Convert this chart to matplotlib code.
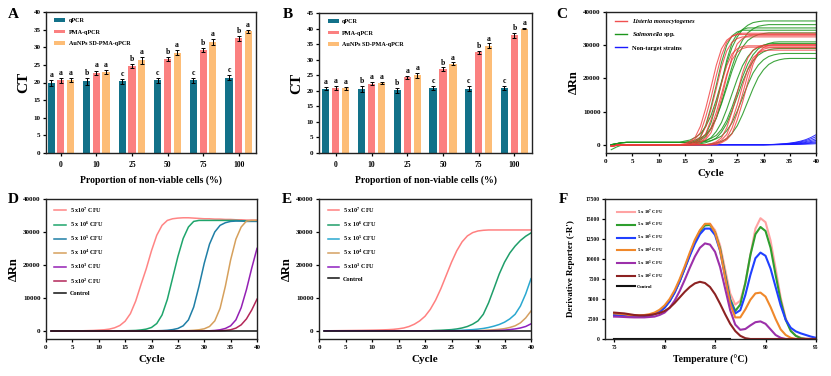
import numpy as np
import matplotlib
matplotlib.use("Agg")
import matplotlib.pyplot as plt

plt.rcParams['font.family'] = ['Liberation Serif', 'DejaVu Serif']
plt.rcParams['font.weight'] = 'bold'
plt.rcParams['mathtext.fontset'] = 'custom'
plt.rcParams['mathtext.rm'] = 'Liberation Serif:bold'
plt.rcParams['mathtext.bf'] = 'Liberation Serif:bold'
plt.rcParams['mathtext.it'] = 'Liberation Serif:italic:bold'

# ---------------- data: panels A & B ----------------
proportions = ['0', '10', '25', '50', '75', '100']
bar_series = ['qPCR', 'PMA-qPCR', 'AuNPs SD-PMA-qPCR']

a_qpcr = [19.9, 20.4, 20.3, 20.7, 20.6, 21.3]
a_pma = [20.6, 22.8, 24.7, 26.6, 29.3, 32.5]
a_aunps = [20.8, 23.0, 26.3, 28.5, 31.4, 34.5]
a_qpcr_err = [0.9, 1.0, 0.7, 0.7, 0.8, 0.7]
a_pma_err = [0.7, 0.6, 0.6, 0.6, 0.6, 0.6]
a_aunps_err = [0.6, 0.6, 1.0, 0.8, 0.8, 0.4]
a_qpcr_sig = ['a', 'b', 'c', 'c', 'c', 'c']
a_pma_sig = ['a', 'a', 'b', 'b', 'b', 'b']
a_aunps_sig = ['a', 'a', 'a', 'a', 'a', 'a']

b_qpcr = [20.7, 20.5, 20.1, 20.9, 20.6, 20.8]
b_pma = [20.8, 22.3, 24.3, 27.0, 32.4, 37.8]
b_aunps = [20.8, 22.5, 25.0, 28.7, 34.5, 40.0]
b_qpcr_err = [0.6, 0.9, 0.9, 0.5, 0.8, 0.6]
b_pma_err = [0.7, 0.4, 0.4, 0.5, 0.5, 0.7]
b_aunps_err = [0.5, 0.2, 0.8, 0.4, 0.7, 0.1]
b_qpcr_sig = ['a', 'b', 'b', 'c', 'c', 'c']
b_pma_sig = ['a', 'a', 'a', 'b', 'b', 'b']
b_aunps_sig = ['a', 'a', 'a', 'a', 'a', 'a']

# ---------------- data: panel C (cycles 1..40) ----------------
cycles = list(range(1, 41))
BL = [-400, -200, -50]
GB = [0, 300, 600]
c_listeria = [
    BL + [0]*11 + [330, 1000, 2300, 5600, 11000, 17300, 23900, 28900, 31500, 32700, 33200] + [33200]*15,
    BL + [0]*12 + [300, 1000, 2300, 5500, 10700, 16900, 23400, 28300, 30900, 32000, 32500] + [32500]*14,
    BL + [0]*12 + [700, 1700, 3700, 8400, 14100, 20800, 26900, 30900, 32600, 33400, 33600] + [33600]*14,
    BL + [0]*13 + [600, 1500, 3300, 7500, 12500, 18500, 23800, 27400, 28900, 29600, 29800] + [29800]*13,
    BL + [0]*13 + [300, 900, 2100, 5000, 9700, 15300, 21200, 25600, 27900, 29000, 29400] + [29400]*13,
    BL + [0]*16 + [300, 900, 2100, 5100, 9900, 15600, 21600, 26100, 28500, 29500, 30000] + [30000]*10,
    BL + [0]*17 + [600, 1400, 3100, 7100, 12000, 17700, 22800, 26200, 27600, 28300, 28500] + [28500]*9,
    BL + [0]*17 + [300, 900, 2000, 5000, 9600, 15200, 21000, 25400, 27700, 28800, 29200] + [29200]*9,
    BL + [0]*14 + [700, 1600, 3600, 8200, 13900, 20500, 26400, 30400, 32000, 32800, 33000] + [33000]*12,
    BL + [0]*18 + [600, 1500, 3300, 7500, 12700, 18700, 24200, 27800, 29300, 30000, 30200] + [30200]*8,
]
c_salmonella = [
    GB + [700]*11 + [1100, 1400, 2200, 3300, 5500, 8800, 13500, 19000, 24500, 29300, 32500, 34700, 36000, 36800, 37100, 37300] + [37300]*10,
    [-300, -150] + [0]*13 + [400, 700, 1400, 2500, 4700, 8000, 12700, 18100, 23500, 28200, 31500, 33700, 34900, 35700, 36000, 36200] + [36200]*9,
    GB + [700]*13 + [1000, 1700, 3100, 6600, 12100, 18600, 25500, 30700, 33500, 34700, 35200] + [35200]*13,
    GB + [700]*12 + [1000, 1400, 2000, 3000, 5000, 8000, 12300, 17200, 22200, 26400, 29400, 31400, 32500, 33200, 33500, 33700] + [33700]*9,
    [-300, -150] + [0]*14 + [300, 600, 1200, 2100, 4000, 6700, 10700, 15300, 19800, 23800, 26500, 28400, 29400, 30000, 30400, 30500] + [30500]*8,
    [-300, -150] + [0]*15 + [300, 600, 1200, 2000, 3800, 6400, 10200, 14500, 18900, 22600, 25200, 27000, 28000, 28600, 28900, 29000] + [29000]*7,
    GB + [700]*15 + [1000, 1200, 1800, 2600, 4200, 6600, 10100, 14100, 18100, 21600, 24000, 25600, 26600, 27100, 27400, 27500] + [27500]*6,
    [-300, -150] + [0]*17 + [300, 500, 1000, 1800, 3400, 5700, 9100, 13000, 16900, 20300, 22600, 24200, 25100, 25600, 25900, 26000] + [26000]*5,
    [-1500, -700, -100] + [0]*12 + [300, 1000, 2400, 5900, 11400, 17900, 24800, 30000, 32800, 34000, 34500] + [34500]*14,
    GB + [700]*14 + [1000, 1300, 1900, 2800, 4600, 7400, 11300, 15900, 20400, 24300, 27100, 28900, 29900, 30500, 30900, 31000] + [31000]*7,
]
c_nontarget = [
    [0]*30 + [50, 100, 180, 300, 480, 720, 1050, 1500, 2150, 3000],
    [0]*30 + [40, 80, 150, 250, 390, 580, 850, 1220, 1730, 2400],
    [0]*30 + [30, 60, 110, 180, 290, 440, 640, 920, 1300, 1800],
    [0]*30 + [20, 40, 80, 130, 210, 320, 470, 670, 950, 1300],
    [0]*30 + [10, 30, 50, 90, 150, 220, 330, 470, 660, 900],
    [0]*30 + [10, 20, 40, 60, 100, 150, 220, 310, 440, 600],
    [0]*30 + [0, 10, 20, 30, 50, 80, 110, 160, 220, 300],
]
c_labels = ['Listeria monocytogenes', r'$\mathit{Salmonella}$ spp.', 'Non-target strains']

# ---------------- data: panel D (cycles 1..40) ----------------
d_labels = [r'5 x10$^{7}$ CFU', r'5 x 10$^{6}$ CFU', r'5 x 10$^{5}$ CFU',
            r'5 x 10$^{4}$ CFU', r'5 x10$^{3}$ CFU', r'5 x10$^{2}$ CFU', 'Control']
d_1e7 = [-100, -100, -80, -60, -50, -30, 0, 50, 100, 200, 300, 500, 900, 1600, 2900, 5200, 9000, 14000, 18800, 24300,
         29000, 32000, 33500, 34000, 34200, 34300, 34300, 34200, 34100, 34000, 34000, 33900, 33900, 33800, 33800, 33700, 33700, 33600, 33600, 33600]
d_1e6 = [-100]*10 + [-80, -60, -40, -20, 0, 50, 100, 250, 500, 1000, 2200, 4800, 9500, 16000, 22500, 28000, 31500, 33200, 33500, 33500,
         33500, 33500, 33500, 33500, 33500, 33500, 33400, 33400, 33400, 33400]
d_1e5 = [-100]*15 + [-80, -60, -40, -20, -10, 0, 50, 150, 350, 700, 1500, 3300, 7200, 13500, 20500, 26300, 30000, 32000, 32800, 33200,
         33300, 33300, 33200, 33200, 33200]
d_1e4 = [-100]*20 + [-80, -60, -40, -20, 0, 20, 50, 150, 300, 600, 1300, 3000, 6800, 13500, 21500, 27800, 31500, 33300, 33500, 33500]
d_1e3 = [-100]*22 + [-80, -60, -40, -20] + [0]*5 + [100, 300, 700, 1500, 3300, 7000, 12500, 19000, 25000]
d_1e2 = [-100]*24 + [-80, -60, -40, -20] + [0]*5 + [100, 300, 800, 1800, 3600, 6300, 9600]
d_control = [0]*40
d_series = [d_1e7, d_1e6, d_1e5, d_1e4, d_1e3, d_1e2, d_control]
d_colors = ['#ff8585', '#1fa56c', '#1f7fa6', '#d6a05c', '#9420b4', '#b32658', '#111111']

# ---------------- data: panel E (cycles 1..40) ----------------
e_labels = [r'5 x10$^{7}$ CFU', r'5 x 10$^{6}$ CFU', r'5 x 10$^{5}$ CFU',
            r'5 x 10$^{4}$ CFU', r'5 x10$^{3}$ CFU', 'Control']
e_1e7 = [0, 0, 20, 40, 60, 80, 100, 120, 150, 180, 220, 270, 330, 420, 600, 850, 1300, 2000, 3000, 4400,
         6500, 9300, 12800, 16800, 20800, 24300, 27000, 28800, 29800, 30300, 30500, 30600, 30600, 30600, 30600, 30600, 30600, 30600, 30600, 30600]
e_1e6 = [0]*20 + [0, 100, 150, 250, 350, 550, 850, 1300, 2000, 3000, 5000, 8500, 12800, 17200, 20800, 23600, 25700, 27400, 28700, 29700]
e_1e5 = [0]*24 + [50, 100, 150, 250, 350, 500, 700, 1000, 1400, 1900, 2600, 3600, 5000, 7500, 11200, 15800]
e_1e4 = [0]*29 + [50, 100, 200, 300, 450, 650, 1000, 1500, 2400, 3900, 6000]
e_1e3 = [0]*32 + [50, 100, 200, 350, 550, 850, 1300, 2100]
e_control = [0]*40
e_series = [e_1e7, e_1e6, e_1e5, e_1e4, e_1e3, e_control]
e_colors = ['#ff8080', '#1f9e6a', '#2aa8d0', '#d4a062', '#8e1fc0', '#111111']

# ---------------- data: panel F (melt curves) ----------------
temps = [75.0 + 0.5 * i for i in range(41)]
f_labels = [r'5 x 10$^{7}$ CFU', r'5 x 10$^{6}$ CFU', r'5 x 10$^{5}$ CFU',
            r'5 x 10$^{4}$ CFU', r'5 x 10$^{3}$ CFU', r'5 x 10$^{2}$ CFU', 'Control']
f_1e7 = [3100, 3050, 3000, 2950, 2900, 2900, 2900, 3000, 3200, 3500, 4000, 4800, 5900, 7300, 8900, 10600, 12200, 13500, 14300, 14400,
         13600, 11700, 8700, 5700, 4300, 4800, 7000, 10500, 13800, 15100, 14600, 12300, 8800, 5200, 2600, 1100, 400, 150, 50, 0, 0]
f_1e6 = [3000, 2950, 2900, 2850, 2850, 2850, 2850, 2950, 3150, 3450, 3950, 4750, 5850, 7250, 8850, 10550, 12150, 13450, 14200, 14250,
         13300, 11300, 8100, 5000, 3500, 4300, 7000, 10500, 13100, 14000, 13500, 11400, 8000, 4800, 2400, 1000, 400, 100, 0, 0, 0]
f_1e5 = [3000, 2950, 2900, 2850, 2850, 2850, 2850, 2950, 3100, 3400, 3900, 4700, 5800, 7200, 8800, 10400, 11900, 13100, 13800, 13800,
         13000, 11000, 7800, 4700, 3200, 3600, 5500, 8000, 10100, 10800, 10400, 8800, 6500, 4200, 2400, 1400, 950, 700, 500, 300, 150]
f_1e4 = [3200, 3150, 3100, 3000, 2950, 2950, 3000, 3100, 3300, 3650, 4200, 5000, 6100, 7500, 9100, 10800, 12400, 13600, 14400, 14400,
         13300, 11100, 7700, 4400, 2700, 2700, 3700, 4900, 5700, 5800, 5300, 4000, 2500, 1200, 500, 150, 0, 0, 0, 0, 0]
f_1e3 = [2800, 2780, 2750, 2720, 2700, 2700, 2700, 2750, 2800, 3000, 3300, 3900, 4800, 6000, 7400, 8900, 10300, 11400, 11950, 11800,
         10900, 9000, 6300, 3600, 1800, 1150, 1250, 1700, 2100, 2200, 1900, 1200, 500, 150, 0, 0, 0, 0, 0, 0, 0]
f_1e2 = [3300, 3250, 3200, 3100, 3000, 2950, 2950, 3000, 3100, 3250, 3500, 3900, 4500, 5200, 5900, 6500, 6950, 7150, 7000, 6500,
         5600, 4400, 3100, 1900, 1000, 400, 100, 0, 0, 0, 0, 0, 0, 0, 0, 0, 0, 0, 0, 0, 0]
f_control_temps = [75.0, 86.5]
f_control = [0, 0]
f_series = [f_1e7, f_1e6, f_1e5, f_1e4, f_1e3, f_1e2]
f_colors = ['#ffa3a3', '#2e9e2e', '#2040ff', '#f0882a', '#9c30aa', '#8c2222', '#111111']

# ---------------- figure ----------------
W, H = 831, 376
fig = plt.figure(figsize=(W / 100, H / 100), dpi=100)


def ax_px(x0, y0, x1, y1):
    return fig.add_axes([x0 / W, 1 - y1 / H, (x1 - x0) / W, (y1 - y0) / H])


def style(ax, fs=5):
    for s in ax.spines.values():
        s.set_linewidth(1.0)
        s.set_color('#222222')
    ax.tick_params(direction='out', length=2.5, width=0.9, labelsize=fs, pad=1.5)
    for lab in ax.get_xticklabels() + ax.get_yticklabels():
        lab.set_fontweight('bold')


def bold_legend(leg):
    for t in leg.get_texts():
        t.set_fontweight('bold')


bar_colors = ['#127189', '#fb8080', '#fdbd77']


def bar_panel(ax, vals, errs, sigs, ylim, yticks, xlim, off):
    x = np.arange(len(proportions))
    for k in range(3):
        ax.bar(x + (k - 1) * off, vals[k], width=0.2, color=bar_colors[k], label=bar_series[k], zorder=2)
        ax.errorbar(x + (k - 1) * off, vals[k], yerr=errs[k], fmt='none', ecolor='black',
                    elinewidth=0.7, capsize=1.5, capthick=0.7, zorder=3)
        for i in range(len(x)):
            ax.text(x[i] + (k - 1) * off, vals[k][i] + errs[k][i] + 0.3, sigs[k][i],
                    ha='center', va='bottom', fontsize=5.5, fontweight='bold')
    ax.set_xlim(*xlim)
    ax.set_ylim(*ylim)
    ax.set_yticks(yticks)
    ax.set_xticks(x)
    ax.set_xticklabels(proportions)
    ax.set_ylabel('CT', fontsize=11, fontweight='bold', labelpad=2)
    ax.set_xlabel('Proportion of non-viable cells (%)', fontsize=7, fontweight='bold', labelpad=5)
    style(ax, 5)
    ax.tick_params(axis='x', labelsize=5.5, pad=3)
    leg = ax.legend(loc='upper left', frameon=False, fontsize=4.4, handlelength=1.8, handleheight=0.55,
                    handletextpad=0.6, borderaxespad=0.3, labelspacing=1.05, bbox_to_anchor=(0.02, 0.985))
    bold_legend(leg)


# A
axA = ax_px(46, 12, 256, 153)
bar_panel(axA, [a_qpcr, a_pma, a_aunps], [a_qpcr_err, a_pma_err, a_aunps_err],
          [a_qpcr_sig, a_pma_sig, a_aunps_sig], (0, 40), range(0, 41, 5), (-0.42, 5.49), 0.27)

# B
axB = ax_px(319, 13, 532, 153)
bar_panel(axB, [b_qpcr, b_pma, b_aunps], [b_qpcr_err, b_pma_err, b_aunps_err],
          [b_qpcr_sig, b_pma_sig, b_aunps_sig], (0, 45), range(0, 46, 5), (-0.47, 5.49), 0.28)


def amp_axes(ax):
    ax.set_xlim(0, 40)
    ax.set_ylim(-2500, 40000)
    ax.set_xticks(range(0, 41, 5))
    ax.set_yticks(range(0, 40001, 10000))
    ax.set_xlabel('Cycle', fontsize=8, fontweight='bold', labelpad=4)
    ax.set_ylabel('ΔRn', fontsize=9, fontweight='bold', labelpad=2)
    style(ax, 5)


# C
axC = ax_px(606, 12, 816, 153)
for cur in c_nontarget:
    axC.plot(cycles, cur, color='#1a1aff', lw=0.7, alpha=0.9)
for cur in c_salmonella:
    axC.plot(cycles, cur, color='#1c951c', lw=0.8, alpha=0.85)
for cur in c_listeria:
    axC.plot(cycles, cur, color='#f03c3c', lw=0.8, alpha=0.8)
amp_axes(axC)
hC = [plt.Line2D([], [], color=c, lw=1.0) for c in ['#f05050', '#1c951c', '#1a1aff']]
legC = axC.legend(hC, c_labels, loc='upper left', frameon=False, fontsize=4.6, handlelength=1.9,
                  handletextpad=0.8, labelspacing=0.95, borderaxespad=0.3, bbox_to_anchor=(0.02, 0.985))
bold_legend(legC)
legC.get_texts()[0].set_fontstyle('italic')

# D
axD = ax_px(46, 199, 257, 339)
for cur, col, lab in zip(d_series, d_colors, d_labels):
    axD.plot(cycles, cur, color=col, lw=1.1, label=lab)
amp_axes(axD)
legD = axD.legend(loc='upper left', frameon=False, fontsize=4.4, handlelength=1.9, handletextpad=0.6,
                  labelspacing=0.8, borderaxespad=0.3, bbox_to_anchor=(0.02, 0.985))
bold_legend(legD)

# E
axE = ax_px(319, 199, 531, 339)
for cur, col, lab in zip(e_series, e_colors, e_labels):
    axE.plot(cycles, cur, color=col, lw=1.1, label=lab)
amp_axes(axE)
legE = axE.legend(loc='upper left', frameon=False, fontsize=4.4, handlelength=1.9, handletextpad=0.6,
                  labelspacing=0.8, borderaxespad=0.3, bbox_to_anchor=(0.02, 0.985))
bold_legend(legE)

# F
axF = ax_px(605, 199, 816, 339)
for cur, col, lab in zip(f_series, f_colors, f_labels[:-1]):
    axF.plot(temps, cur, color=col, lw=1.5, label=lab)
axF.plot(f_control_temps, f_control, color=f_colors[-1], lw=1.5, label=f_labels[-1], clip_on=False)
axF.set_xlim(74.1, 95)
axF.set_ylim(0, 17500)
axF.set_xticks(range(75, 96, 5))
axF.set_yticks(range(0, 17501, 2500))
axF.set_xlabel('Temperature (°C)', fontsize=7, fontweight='bold', labelpad=4)
axF.set_ylabel("Derivative Reporter (-R')", fontsize=6.5, fontweight='bold', labelpad=7)
style(axF, 4)
legF = axF.legend(loc='upper left', frameon=False, fontsize=3.4, handlelength=3.8, handletextpad=0.4,
                  labelspacing=0.75, borderaxespad=0.3, bbox_to_anchor=(0.04, 0.965))
bold_legend(legF)

# panel letters
for lab, (px, py) in zip('ABCDEF', [(8, 18), (283, 18), (556, 18), (8, 203), (282, 203), (559, 203)]):
    fig.text(px / W, 1 - py / H, lab, fontsize=11, fontweight='bold', ha='left', va='baseline')

fig.savefig('out.png', dpi=100)
